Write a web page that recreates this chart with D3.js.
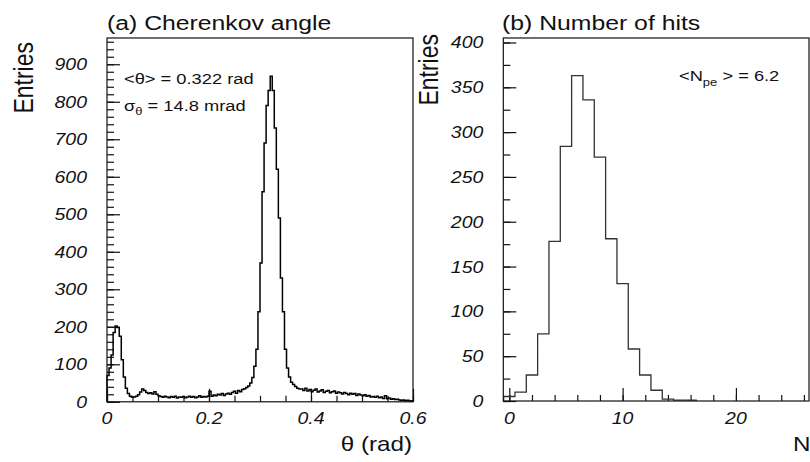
<!DOCTYPE html>
<html>
<head>
<meta charset="utf-8">
<script src="https://cdn.jsdelivr.net/npm/d3@7"></script>
<style>
  body { margin: 0; background: #fff; }
  text { font-family: "Liberation Sans", Arial, sans-serif; fill: #111; }
</style>
</head>
<body>
<div class="chart"></div>
<script>
// (a) Cherenkov angle, bins of 0.004 rad from 0 to 0.6
const thetaBinWidth = 0.004;
const thetaCounts = [
  70, 90, 125, 185, 202, 198, 175, 112, 66, 36, 22, 15, 12,
  13, 15, 19, 26, 34, 30, 25, 22, 24, 21, 27, 20,
  16, 14, 12, 15, 13, 11, 14, 12, 15, 10, 13, 12, 14, 11, 13, 15, 12, 14, 11, 13, 16, 12, 14, 13, 15,
  28, 15, 18, 16, 20, 18, 22, 17, 21, 23, 20, 25, 28, 23, 30, 27, 33, 35, 38,
  42, 50, 65, 95, 140,
  240, 370, 560, 690, 790, 830, 868, 830, 730, 620, 490, 330, 240, 140, 90, 66, 52, 46, 41, 36, 34,
  34, 30, 36, 29, 33, 27, 31, 34, 26, 29, 32, 25, 28, 30, 24, 27, 29, 23, 26, 24,
  21, 25, 22, 19, 23, 20, 22, 17, 21, 18, 16, 19, 15, 17, 13, 14, 12, 15, 11, 13,
  9, 16, 8, 10, 7, 8, 6, 7, 5, 4, 5, 3, 4, 2, 3
];
const thetaTicks = [0, 0.2, 0.4, 0.6];
const thetaTickLabels = ["0", "0.2", "0.4", "0.6"];
const entriesTicksA = [0, 100, 200, 300, 400, 500, 600, 700, 800, 900];

// (b) Number of hits, unit bins centred on 0..16
const hitValues = [0, 1, 2, 3, 4, 5, 6, 7, 8, 9, 10, 11, 12, 13, 14, 15, 16];
const hitCounts = [5, 10, 29, 75, 178, 284, 363, 336, 272, 181, 131, 58, 29, 12, 2, 1, 1];
const hitTicks = [0, 10, 20];
const entriesTicksB = [0, 50, 100, 150, 200, 250, 300, 350, 400];

const SX = 1.18; // text in the picture is stretched horizontally

const svg = d3
  .select(".chart")
  .append("svg")
  .attr("width", 810)
  .attr("height", 462);

function stretchedText(x, y, str, size, opts = {}) {
  const t = svg
    .append("text")
    .attr("transform", `translate(${x},${y}) scale(${SX},1)` + (opts.rotate ? " rotate(-90)" : ""))
    .attr("text-anchor", opts.anchor || "start")
    .style("font-size", size + "px");
  if (opts.italic) t.style("font-style", "italic");
  t.text(str);
  return t;
}

function stepPoints(edges, counts) {
  const pts = [[edges[0], 0]];
  counts.forEach((c, i) => {
    pts.push([edges[i], c]);
    pts.push([edges[i + 1], c]);
  });
  pts.push([edges[edges.length - 1], 0]);
  return pts;
}

function drawPanel(p) {
  const g = svg.append("g");

  // minor + major ticks, inward
  g.append("g")
    .attr("transform", `translate(${p.x.range()[0]},0)`)
    .call(d3.axisLeft(p.y).tickValues(p.yMinor).tickSize(-7).tickFormat(""))
    .call((a) => a.select(".domain").remove());
  g.append("g")
    .attr("transform", `translate(${p.x.range()[0]},0)`)
    .call(d3.axisLeft(p.y).tickValues(p.yMajor).tickSize(-13).tickFormat(""))
    .call((a) => a.select(".domain").remove());
  g.append("g")
    .attr("transform", `translate(0,${p.y.range()[0]})`)
    .call(d3.axisBottom(p.x).tickValues(p.xMinor).tickSize(-6).tickFormat(""))
    .call((a) => a.select(".domain").remove());
  g.append("g")
    .attr("transform", `translate(0,${p.y.range()[0]})`)
    .call(d3.axisBottom(p.x).tickValues(p.xMajor).tickSize(-13).tickFormat(""))
    .call((a) => a.select(".domain").remove());
  g.selectAll(".tick line").attr("stroke", "#111").attr("stroke-width", 1.2);

  // histogram outline
  const line = d3
    .line()
    .x((d) => p.x(d[0]))
    .y((d) => p.y(d[1]));
  g.append("path")
    .datum(stepPoints(p.edges, p.counts))
    .attr("d", line)
    .attr("fill", "none")
    .attr("stroke", p.color)
    .attr("stroke-width", p.width)
    .attr("stroke-linejoin", "miter");

  // frame
  const [x0, x1] = p.x.range();
  const [y0, y1] = p.y.range();
  g.append("rect")
    .attr("x", x0)
    .attr("y", y1)
    .attr("width", x1 - x0)
    .attr("height", y0 - y1)
    .attr("fill", "none")
    .attr("stroke", "#111")
    .attr("stroke-width", 1.2);

  // tick labels
  p.yMajor.forEach((v, i) => {
    stretchedText(x0 - 20, p.y(v) + 6, p.yLabels[i], 16.5, { anchor: "end", italic: true });
  });
  p.xMajor.forEach((v, i) => {
    stretchedText(p.x(v), 424, p.xLabels[i], 16.5, { anchor: "middle", italic: true });
  });
}

// panel (a)
const xA = d3.scaleLinear().domain([0, 0.6]).range([107, 413]);
const yA = d3.scaleLinear().domain([0, 970]).range([401.8, 38]);
drawPanel({
  x: xA,
  y: yA,
  edges: d3.range(thetaCounts.length + 1).map((i) => i * thetaBinWidth),
  counts: thetaCounts,
  color: "#000",
  width: 1.5,
  xMajor: thetaTicks,
  xLabels: thetaTickLabels,
  xMinor: d3.range(0, 0.6001, 0.05),
  yMajor: entriesTicksA,
  yLabels: entriesTicksA.map(String),
  yMinor: d3.range(0, 961, 20),
});

// panel (b)
const xB = d3.scaleLinear().domain([-0.53, 26.45]).range([503.3, 809]);
const yB = d3.scaleLinear().domain([0, 405]).range([401, 38]);
drawPanel({
  x: xB,
  y: yB,
  edges: hitValues.map((v) => v - 0.5).concat([hitValues[hitValues.length - 1] + 0.5]),
  counts: hitCounts,
  color: "#333",
  width: 1.3,
  xMajor: hitTicks,
  xLabels: hitTicks.map(String),
  xMinor: d3.range(0, 27, 2),
  yMajor: entriesTicksB,
  yLabels: entriesTicksB.map(String),
  yMinor: d3.range(0, 401, 25),
});

// titles and axis titles
stretchedText(107, 30, "(a) Cherenkov angle", 21);
stretchedText(502, 30, "(b) Number of hits", 21);
stretchedText(33, 42, "Entries", 23, { anchor: "end", rotate: true });
stretchedText(438, 34, "Entries", 23, { anchor: "end", rotate: true });
stretchedText(412, 451, "θ (rad)", 20.5, { anchor: "end" });
stretchedText(793, 451, "N", 20.5);

// annotations
stretchedText(124, 84, "<θ> = 0.322 rad", 15.5);
const sig = stretchedText(124, 111, "", 15.5);
sig.append("tspan").text("σ");
sig.append("tspan").attr("dy", 4).style("font-size", "11px").text("θ");
sig.append("tspan").attr("dy", -4).text(" = 14.8 mrad");
const npe = stretchedText(679, 81, "", 15.5);
npe.append("tspan").text("<N");
npe.append("tspan").attr("dy", 5).style("font-size", "11px").text("pe");
npe.append("tspan").attr("dy", -5).text(" > = 6.2");
</script>
</body>
</html>
